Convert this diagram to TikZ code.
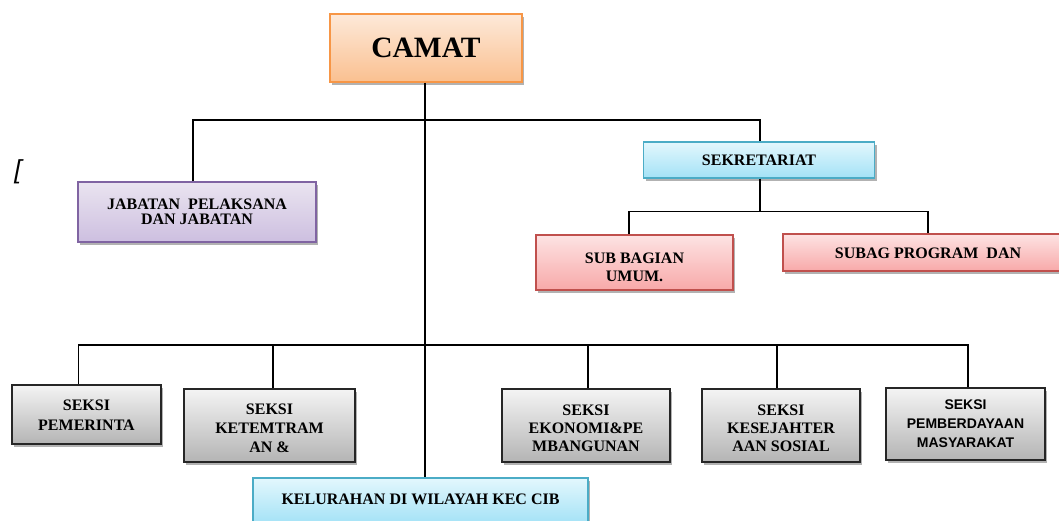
\documentclass[tikz,border=0pt]{standalone}
\usepackage{fontspec}
\setmainfont{Liberation Serif}
\newfontfamily\arialfont{Liberation Sans}
\usetikzlibrary{shadows}
\definecolor{orbd}{HTML}{F79646}
\definecolor{ortop}{HTML}{FDE9D9}
\definecolor{orbot}{HTML}{FAC090}
\definecolor{pubd}{HTML}{8064A2}
\definecolor{putop}{HTML}{EAE4F0}
\definecolor{pubot}{HTML}{CDBFE0}
\definecolor{cybd}{HTML}{4BACC6}
\definecolor{cytop}{HTML}{E3F7FD}
\definecolor{cybot}{HTML}{A3E2F6}
\definecolor{rdbd}{HTML}{C0504D}
\definecolor{rdtop}{HTML}{FDE3E3}
\definecolor{rdbot}{HTML}{F8A9A9}
\definecolor{gytop}{HTML}{F4F4F4}
\definecolor{gybot}{HTML}{B4B4B4}
\newcommand{\shiftlines}[2]{\raisebox{#1}[\height][\depth]{\begin{tabular}{@{}c@{}}#2\end{tabular}}}
\tikzset{
  boxbase/.style={line width=1.3pt, inner sep=0pt, align=center,
    drop shadow={shadow xshift=2pt, shadow yshift=-3pt, opacity=0.3, fill=black}},
  orbox/.style={boxbase, draw=orbd, top color=ortop, bottom color=orbot},
  pubox/.style={boxbase, draw=pubd, top color=putop, bottom color=pubot},
  cybox/.style={boxbase, draw=cybd, top color=cytop, bottom color=cybot},
  rdbox/.style={boxbase, draw=rdbd, top color=rdtop, bottom color=rdbot},
  gybox/.style={boxbase, draw=black!85, top color=gytop, bottom color=gybot},
  txt/.style={font=\bfseries\fontsize{16}{19}\selectfont},
  conn/.style={line width=1.6pt, black}
}
\begin{document}
\begin{tikzpicture}[x=1pt,y=-1pt]
\useasboundingbox (0,0) rectangle (1059,521);
% nodes
\node[orbox, minimum width=192pt, minimum height=68pt, font=\bfseries\fontsize{29.5}{30}\selectfont] (camat) at (426,48) {CAMAT};
\node[pubox, minimum width=238pt, minimum height=60pt, font=\bfseries\fontsize{16}{14.5}\selectfont] (jab) at (197,212) {JABATAN\ \ PELAKSANA\\DAN JABATAN};
\node[cybox, txt, minimum width=231pt, minimum height=36pt] (sek) at (759,160) {\shiftlines{-2pt}{SEKRETARIAT}};
\node[rdbox, txt, minimum width=197pt, minimum height=55pt] (subum) at (634.5,262.5) {\shiftlines{-6pt}{SUB BAGIAN\\[-1pt]UMUM.}};
\node[rdbox, txt, minimum width=290pt, minimum height=37pt] (subag) at (928,252.5) {\shiftlines{-2pt}{SUBAG PROGRAM\ \ DAN}};
\node[gybox, txt, minimum width=149pt, minimum height=59pt, font=\bfseries\fontsize{16}{20}\selectfont] (pem) at (86.5,414.5) {\shiftlines{-2pt}{SEKSI\\PEMERINTA}};
\node[gybox, txt, minimum width=171pt, minimum height=73pt, font=\bfseries\fontsize{16}{20}\selectfont] (ket) at (269.5,425.5) {\shiftlines{-4pt}{SEKSI\\[-1pt]KETEMTRAM\\[-1pt]AN \&}};
\node[gybox, txt, minimum width=168pt, minimum height=73pt] (eko) at (586,425.5) {\shiftlines{-4pt}{SEKSI\\[-1pt]EKONOMI\&PE\\[-1pt]MBANGUNAN}};
\node[gybox, txt, minimum width=158pt, minimum height=73pt] (kes) at (781,425.5) {\shiftlines{-4pt}{SEKSI\\[-1pt]KESEJAHTER\\[-1pt]AAN SOSIAL}};
\node[gybox, minimum width=159pt, minimum height=72pt, font=\arialfont\bfseries\fontsize{14}{19}\selectfont] (pmb) at (965.5,424) {SEKSI\\PEMBERDAYAAN\\MASYARAKAT};
\node[cybox, txt, minimum width=335pt, minimum height=46pt] (kel) at (420.5,501) {\shiftlines{0pt}{KELURAHAN DI WILAYAH KEC CIB}};
\node[font=\arialfont\itshape\fontsize{26}{26}\selectfont, inner sep=0pt] (brk) at (18,172) {[};
% connectors
\coordinate (top) at (425,120);
\coordinate (bar) at (425,345);
\draw[conn] ([xshift=-1pt]camat.south) -- (kel.north -| top);
\draw[conn] ([xshift=-4pt]jab.north) -- ([xshift=-4pt]jab.north |- top) -| ([xshift=1pt]sek.north);
\draw[conn] ([xshift=1pt]sek.south) -- ++(0,33) -| ([xshift=-5.5pt]subum.north);
\draw[conn] ([xshift=1pt]sek.south) ++(0,33) -| (subag.north);
\draw[conn] ([xshift=-8pt]pem.north) -- ([xshift=-8pt]pem.north |- bar) -| ([xshift=2.5pt]pmb.north);
\draw[conn] ([xshift=3.5pt]ket.north) -- ([xshift=3.5pt]ket.north |- bar);
\draw[conn] ([xshift=2pt]eko.north) -- ([xshift=2pt]eko.north |- bar);
\draw[conn] ([xshift=-4pt]kes.north) -- ([xshift=-4pt]kes.north |- bar);
\end{tikzpicture}
\end{document}
